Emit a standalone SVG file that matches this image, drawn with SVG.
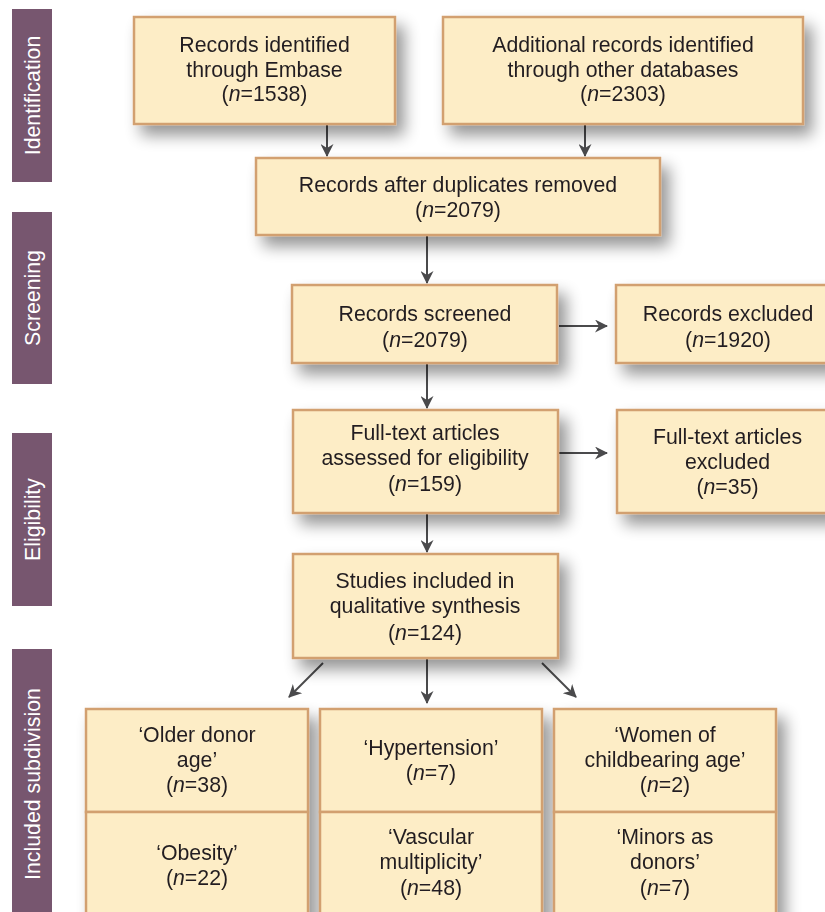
<svg xmlns="http://www.w3.org/2000/svg" width="825" height="912" viewBox="0 0 825 912">
<style>
.box{fill:#fdedc6;stroke:#d2a070;stroke-width:2.5}
.side{fill:#77566f}
.t{font-family:"Liberation Sans",Arial,sans-serif;font-size:21.3px;fill:#231f20;text-anchor:middle}
.s{font-family:"Liberation Sans",Arial,sans-serif;font-size:21.3px;fill:#ffffff;text-anchor:middle}
.i{font-style:italic}
.c{stroke:#4a4a4c;stroke-width:2;fill:none;marker-end:url(#ah)}
</style>
<defs>
<filter id="sh" x="-20%" y="-20%" width="150%" height="160%">
<feGaussianBlur in="SourceAlpha" stdDeviation="8"/>
<feOffset dx="8" dy="10" result="b"/>
<feComponentTransfer><feFuncA type="linear" slope="0.42"/></feComponentTransfer>
<feMerge><feMergeNode/><feMergeNode in="SourceGraphic"/></feMerge>
</filter>
<marker id="ah" viewBox="0 0 13 13" refX="12" refY="6.5" markerWidth="13" markerHeight="13" markerUnits="userSpaceOnUse" orient="auto">
<path d="M0,0 L13,6.5 L0,13 L4,6.5 z" fill="#4a4a4c"/>
</marker>
</defs>
<rect width="825" height="912" fill="#ffffff"/>

<g id="sidebars">
<g id="side-identification"><rect class="side" x="12" y="9" width="40" height="173"/><text class="s" transform="translate(39.5,95.5) rotate(-90)">Identification</text></g>
<g id="side-screening"><rect class="side" x="12" y="212" width="40" height="172"/><text class="s" transform="translate(39.5,298) rotate(-90)">Screening</text></g>
<g id="side-eligibility"><rect class="side" x="12" y="433" width="40" height="173"/><text class="s" transform="translate(39.5,519.5) rotate(-90)">Eligibility</text></g>
<g id="side-included"><rect class="side" x="12" y="649" width="40" height="280"/><text class="s" transform="translate(39.5,784) rotate(-90)">Included subdivision</text></g>
</g>

<g id="connectors">
<line class="c" x1="327" y1="125" x2="327" y2="156"/>
<line class="c" x1="585" y1="125" x2="585" y2="156"/>
<line class="c" x1="427" y1="236" x2="427" y2="283"/>
<line class="c" x1="559" y1="326" x2="607" y2="326"/>
<line class="c" x1="427" y1="364" x2="427" y2="408"/>
<line class="c" x1="559" y1="453" x2="607" y2="453"/>
<line class="c" x1="427" y1="514" x2="427" y2="552"/>
<line class="c" x1="323" y1="663" x2="289" y2="697"/>
<line class="c" x1="427" y1="659" x2="427" y2="703"/>
<line class="c" x1="542" y1="663" x2="576" y2="697"/>
</g>

<g id="n-embase" filter="url(#sh)"><rect class="box" x="134" y="17" width="261" height="107"/>
<text class="t" x="264.5" y="52">Records identified</text><text class="t" x="264.5" y="76.5">through Embase</text><text class="t" x="264.5" y="101">(<tspan class="i">n</tspan>=1538)</text></g>

<g id="n-other" filter="url(#sh)"><rect class="box" x="443" y="17" width="360" height="107"/>
<text class="t" x="623" y="52">Additional records identified</text><text class="t" x="623" y="76.5">through other databases</text><text class="t" x="623" y="101">(<tspan class="i">n</tspan>=2303)</text></g>

<g id="n-dup" filter="url(#sh)"><rect class="box" x="256" y="158" width="404" height="77"/>
<text class="t" x="458" y="192">Records after duplicates removed</text><text class="t" x="458" y="217">(<tspan class="i">n</tspan>=2079)</text></g>

<g id="n-screened" filter="url(#sh)"><rect class="box" x="292" y="285" width="265" height="78"/>
<text class="t" x="425" y="321">Records screened</text><text class="t" x="425" y="346.5">(<tspan class="i">n</tspan>=2079)</text></g>

<g id="n-excluded" filter="url(#sh)"><rect class="box" x="616" y="285" width="224" height="78"/>
<text class="t" x="728" y="321">Records excluded</text><text class="t" x="728" y="346.5">(<tspan class="i">n</tspan>=1920)</text></g>

<g id="n-fulltext" filter="url(#sh)"><rect class="box" x="293" y="410" width="265" height="103"/>
<text class="t" x="425" y="440">Full-text articles</text><text class="t" x="425" y="465">assessed for eligibility</text><text class="t" x="425" y="491">(<tspan class="i">n</tspan>=159)</text></g>

<g id="n-ftexcluded" filter="url(#sh)"><rect class="box" x="617" y="410" width="221" height="103"/>
<text class="t" x="727.5" y="443.5">Full-text articles</text><text class="t" x="727.5" y="468.5">excluded</text><text class="t" x="727.5" y="494">(<tspan class="i">n</tspan>=35)</text></g>

<g id="n-included" filter="url(#sh)"><rect class="box" x="293" y="554" width="265" height="104"/>
<text class="t" x="425" y="588">Studies included in</text><text class="t" x="425" y="613">qualitative synthesis</text><text class="t" x="425" y="639.5">(<tspan class="i">n</tspan>=124)</text></g>

<g id="col1" filter="url(#sh)">
<rect class="box" x="86" y="709" width="222" height="103"/>
<rect class="box" x="86" y="812" width="222" height="120"/>
<text class="t" x="197" y="741.5">‘Older donor</text><text class="t" x="197" y="766.5">age’</text><text class="t" x="197" y="791.5">(<tspan class="i">n</tspan>=38)</text>
<text class="t" x="197" y="860">‘Obesity’</text><text class="t" x="197" y="885">(<tspan class="i">n</tspan>=22)</text>
</g>

<g id="col2" filter="url(#sh)">
<rect class="box" x="320" y="709" width="222" height="103"/>
<rect class="box" x="320" y="812" width="222" height="120"/>
<text class="t" x="431" y="755">‘Hypertension’</text><text class="t" x="431" y="780">(<tspan class="i">n</tspan>=7)</text>
<text class="t" x="431" y="843.5">‘Vascular</text><text class="t" x="431" y="868.5">multiplicity’</text><text class="t" x="431" y="894.5">(<tspan class="i">n</tspan>=48)</text>
</g>

<g id="col3" filter="url(#sh)">
<rect class="box" x="554" y="709" width="222" height="103"/>
<rect class="box" x="554" y="812" width="222" height="120"/>
<text class="t" x="665" y="741.5">‘Women of</text><text class="t" x="665" y="766.5">childbearing age’</text><text class="t" x="665" y="792">(<tspan class="i">n</tspan>=2)</text>
<text class="t" x="665" y="843.5">‘Minors as</text><text class="t" x="665" y="868.5">donors’</text><text class="t" x="665" y="894.5">(<tspan class="i">n</tspan>=7)</text>
</g>
</svg>
